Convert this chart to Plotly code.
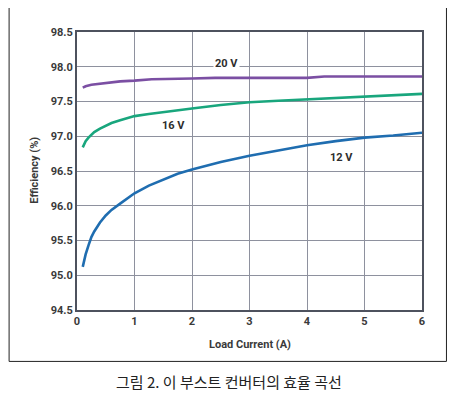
import plotly.graph_objects as go

# Load current (A)
x_12v = [0.1, 0.15, 0.2, 0.25, 0.3, 0.4, 0.5, 0.6, 0.75, 1.0, 1.25, 1.5, 1.75, 2.0, 2.5, 3.0, 3.5, 4.0, 4.5, 5.0, 5.5, 6.0]
eff_12v = [95.12, 95.30, 95.43, 95.55, 95.63, 95.76, 95.86, 95.94, 96.03, 96.18, 96.29, 96.38, 96.46, 96.52, 96.63, 96.72, 96.80, 96.87, 96.93, 96.98, 97.01, 97.05]

x_16v = [0.1, 0.15, 0.2, 0.25, 0.3, 0.4, 0.5, 0.6, 0.75, 0.9, 1.0, 1.25, 1.5, 1.75, 2.0, 2.5, 3.0, 3.5, 4.0, 4.5, 5.0, 5.5, 6.0]
eff_16v = [96.84, 96.93, 96.98, 97.02, 97.06, 97.11, 97.15, 97.19, 97.23, 97.27, 97.29, 97.32, 97.35, 97.38, 97.40, 97.45, 97.49, 97.51, 97.53, 97.56, 97.58, 97.60, 97.61]

x_20v = [0.1, 0.15, 0.25, 0.5, 0.75, 1.0, 1.3, 2.0, 2.4, 3.0, 4.0, 4.3, 5.0, 6.0]
eff_20v = [97.70, 97.72, 97.74, 97.77, 97.79, 97.80, 97.82, 97.83, 97.84, 97.84, 97.84, 97.86, 97.86, 97.86]

x_ticks = [0, 1, 2, 3, 4, 5, 6]
y_ticks = [94.5, 95.0, 95.5, 96.0, 96.5, 97.0, 97.5, 98.0, 98.5]
y_tick_labels = ["94.5", "95.0", "95.5", "96.0", "96.5", "97.0", "97.5", "98.0", "98.5"]

series_labels = ["12 V", "16 V", "20 V"]
label_pos_x = [4.6, 1.67, 2.6]
label_pos_y = [96.70, 97.16, 98.04]

x_title = "Load Current (A)"
y_title = "Efficiency (%)"
caption = "그림 2. 이 부스트 컨버터의 효율 곡선"

# page body has an 8px default margin; compensate
OFF = 8
W, H = 458 - OFF, 397 - OFF
L, T = 77 - OFF, 32 - OFF
R = W - (422.5 - OFF)
B = H - (310.5 - OFF)
pw, ph = W - L - R, H - T - B

def px(xp):
    return (xp - OFF - L) / pw

def py(yp):
    return (H - B - (yp - OFF)) / ph

fig = go.Figure()
colors = {"12 V": "#1f6db0", "16 V": "#19a67d", "20 V": "#7b4fa3"}
for xs, ys, name in [(x_20v, eff_20v, "20 V"), (x_16v, eff_16v, "16 V"), (x_12v, eff_12v, "12 V")]:
    fig.add_trace(go.Scatter(x=xs, y=ys, mode="lines", name=name,
                             line=dict(color=colors[name], width=2.6), showlegend=False))

tick_font = dict(family="Roboto", size=11, color="#3a3a3a", weight="bold")
axis_common = dict(showgrid=True, gridcolor="#8e919e", gridwidth=1,
                   showline=True, linecolor="#4e525e", linewidth=2, mirror=True,
                   zeroline=False, ticks="", tickfont=tick_font)
fig.update_xaxes(range=[0, 6], tickvals=x_ticks, **axis_common)
fig.update_yaxes(range=[94.5, 98.5], tickvals=y_ticks, ticktext=y_tick_labels, **axis_common)

for t, lx, ly in zip(series_labels, label_pos_x, label_pos_y):
    fig.add_annotation(x=lx, y=ly, text=t, showarrow=False, bgcolor="white",
                       xanchor="center", yanchor="middle",
                       font=dict(family="Roboto", size=11, color="#2e2e2e", weight="bold"))

fig.add_annotation(xref="paper", yref="paper", x=px(250), y=py(345), text=x_title, showarrow=False,
                   xanchor="center", yanchor="middle",
                   font=dict(family="Roboto", size=11, color="#3a3a3a", weight="bold"))
fig.add_annotation(xref="paper", yref="paper", x=px(35), y=py(171), text=y_title, showarrow=False,
                   xanchor="center", yanchor="middle",
                   textangle=-90, font=dict(family="Roboto", size=11, color="#3a3a3a", weight="bold"))
fig.add_annotation(xref="paper", yref="paper", x=px(229), y=py(382), text=caption, showarrow=False,
                   xanchor="center", yanchor="middle",
                   font=dict(family="Noto Sans CJK KR", size=15, color="#222222"))

fig.add_shape(type="rect", xref="paper", yref="paper",
              x0=px(9), x1=px(447), y0=py(362), y1=py(6),
              line=dict(color="#222222", width=1), layer="below")

fig.update_layout(width=W, height=H, margin=dict(l=L, r=R, t=T, b=B),
                  paper_bgcolor="white", plot_bgcolor="white")
fig.write_html("out.html")
